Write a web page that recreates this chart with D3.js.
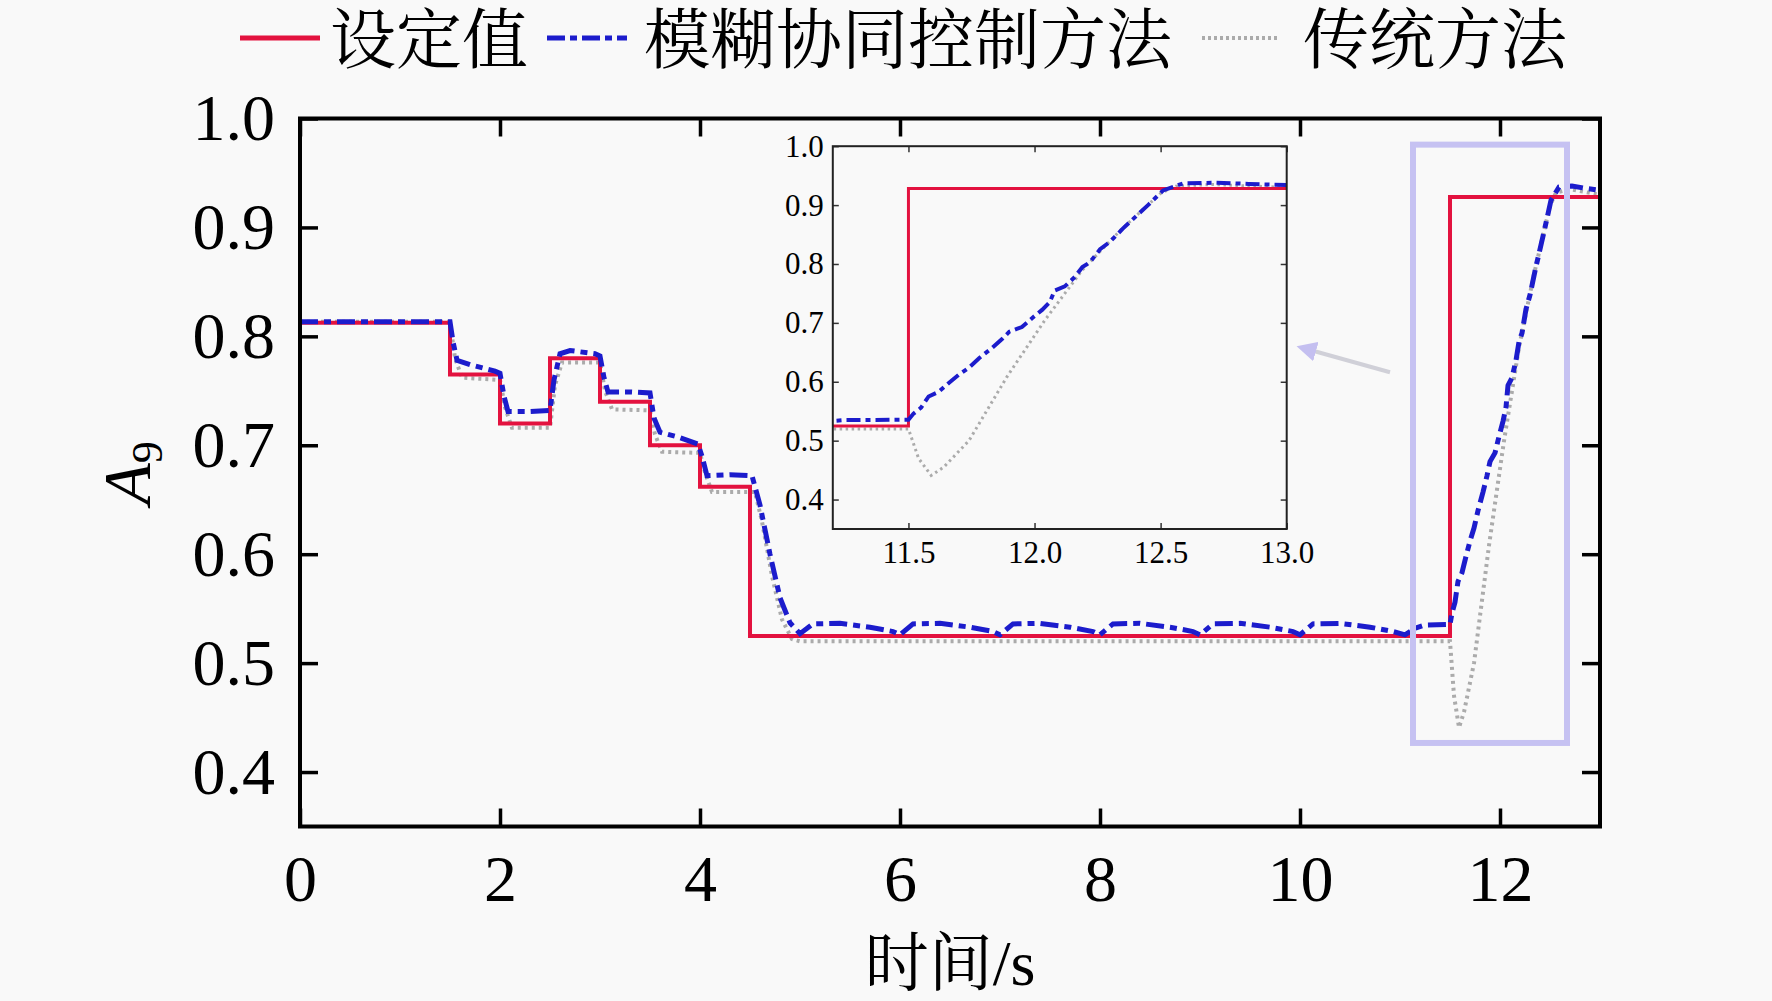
<!DOCTYPE html>
<html>
<head>
<meta charset="utf-8">
<script src="https://cdn.jsdelivr.net/npm/d3@7"></script>
<style>
  body { margin: 0; background: #f9f9f9; }
  svg { display: block; }
  .serif { font-family: "Liberation Serif", "Times New Roman", "Noto Serif CJK SC", "Noto Sans CJK SC", serif; }
</style>
</head>
<body>
<div id="chart"></div>
<script>
// set value (step signal)
var setTime  = [0, 1.5, 2, 2.5, 3, 3.5, 4, 4.5, 11.5, 13];
var setValue = [0.8125, 0.765, 0.72, 0.78, 0.74, 0.70, 0.662, 0.525, 0.928, 0.928];

// fuzzy cooperative control
var fuzzyTime = [0, 1.5, 1.53, 1.57, 1.7, 1.95, 2.0, 2.04, 2.08, 2.3, 2.5, 2.54, 2.6, 2.7, 2.95, 3.0,
  3.04, 3.08, 3.3, 3.5, 3.54, 3.6, 3.8, 3.98, 4.02, 4.07, 4.3, 4.52, 4.6, 4.7, 4.8, 4.9,
  5.0, 5.13, 5.4, 5.7, 5.93, 6.0, 6.13, 6.4, 6.7, 6.93, 7.0, 7.13, 7.4, 7.7, 7.93,
  8.0, 8.13, 8.4, 8.7, 8.93, 9.0, 9.13, 9.4, 9.7, 9.93, 10.0, 10.13, 10.4, 10.7, 10.93,
  11.05, 11.15, 11.25, 11.5, 11.52, 11.55, 11.58, 11.62, 11.66, 11.70, 11.74, 11.78, 11.83,
  11.87, 11.90, 11.95, 11.99, 12.03, 12.06, 12.08, 12.12, 12.16, 12.19, 12.22, 12.26, 12.30,
  12.35, 12.40, 12.45, 12.51, 12.59, 12.72, 12.85, 13.0];
var fuzzyValue = [0.8135, 0.8135, 0.795, 0.778, 0.774, 0.768, 0.766, 0.745, 0.731, 0.731, 0.732, 0.76, 0.784, 0.787, 0.784, 0.782,
  0.762, 0.749, 0.749, 0.748, 0.725, 0.712, 0.707, 0.701, 0.69, 0.672, 0.673, 0.672, 0.645, 0.60, 0.56, 0.537,
  0.527, 0.536, 0.5365, 0.533, 0.529, 0.526, 0.536, 0.5365, 0.533, 0.529, 0.526, 0.536, 0.5365, 0.533, 0.529,
  0.526, 0.536, 0.5365, 0.533, 0.529, 0.526, 0.536, 0.5365, 0.533, 0.529, 0.526, 0.536, 0.5365, 0.533, 0.529,
  0.526, 0.532, 0.535, 0.5355, 0.546, 0.556, 0.575, 0.583, 0.598, 0.612, 0.624, 0.640, 0.657,
  0.672, 0.685, 0.693, 0.708, 0.722, 0.735, 0.755, 0.762, 0.778, 0.795, 0.803, 0.825, 0.838,
  0.860, 0.880, 0.900, 0.925, 0.937, 0.938, 0.936, 0.934];

// traditional method
var tradTime = [0, 1.5, 1.55, 1.62, 2.0, 2.05, 2.12, 2.5, 2.55, 2.62, 3.0, 3.05, 3.12, 3.5, 3.55, 3.62,
  4.0, 4.05, 4.12, 4.55, 4.62, 4.72, 4.82, 4.92, 5.0, 11.5, 11.54, 11.59, 11.64, 11.74, 11.89,
  12.04, 12.19, 12.34, 12.5, 12.56, 12.7, 13.0];
var tradValue = [0.8135, 0.8135, 0.78, 0.762, 0.760, 0.735, 0.716, 0.716, 0.755, 0.776, 0.776, 0.75, 0.733, 0.732, 0.71, 0.694,
  0.693, 0.675, 0.657, 0.657, 0.63, 0.58, 0.54, 0.522, 0.520, 0.520, 0.47, 0.441, 0.455, 0.50, 0.608,
  0.704, 0.79, 0.857, 0.920, 0.932, 0.935, 0.930];

var xTicks = [0, 2, 4, 6, 8, 10, 12];
var yTicks = [0.4, 0.5, 0.6, 0.7, 0.8, 0.9, 1.0];
var insetXTicks = [11.5, 12.0, 12.5, 13.0];
var insetYTicks = [0.4, 0.5, 0.6, 0.7, 0.8, 0.9, 1.0];
var legendNames = ['设定值', '模糊协同控制方法', '传统方法'];

var width = 1772, height = 1001;
var red = '#e3123f', blue = '#1c1ccc', grey = '#ababab';

var svg = d3.select('#chart').append('svg')
  .attr('width', width)
  .attr('height', height)
  .attr('class', 'serif');

svg.append('rect').attr('width', width).attr('height', height).attr('fill', '#f9f9f9');

function zip(t, v) { return t.map(function(d, i) { return [d, v[i]]; }); }
var setData = zip(setTime, setValue),
    fuzzyData = zip(fuzzyTime, fuzzyValue),
    tradData = zip(tradTime, tradValue);

// ---------- main plot ----------
var x = d3.scaleLinear().domain([0, 13]).range([300, 1600]);
var y = d3.scaleLinear().domain([0.35, 1.0]).range([826.5, 118.5]);

svg.append('clipPath').attr('id', 'clipMain')
  .append('rect').attr('x', 300).attr('y', 118.5).attr('width', 1300).attr('height', 708);

function drawLines(g, xs, ys, w) {
  var lineStep = d3.line().x(function(d) { return xs(d[0]); }).y(function(d) { return ys(d[1]); }).curve(d3.curveStepAfter);
  var line = d3.line().x(function(d) { return xs(d[0]); }).y(function(d) { return ys(d[1]); });
  g.append('path').datum(tradData).attr('d', line)
    .attr('fill', 'none').attr('stroke', grey).attr('stroke-width', w.grey).attr('stroke-dasharray', w.dot);
  g.append('path').datum(setData).attr('d', lineStep)
    .attr('fill', 'none').attr('stroke', red).attr('stroke-width', w.red);
  g.append('path').datum(fuzzyData).attr('d', line)
    .attr('fill', 'none').attr('stroke', blue).attr('stroke-width', w.blue).attr('stroke-dasharray', w.dash);
}

var mainLines = svg.append('g').attr('clip-path', 'url(#clipMain)');
drawLines(mainLines, x, y, { grey: 4, red: 4, blue: 5, dot: '3,4', dash: '18,6,7,6' });

// axes, ticks inside
svg.append('g').attr('transform', 'translate(0,826.5)')
  .call(d3.axisBottom(x).tickValues(xTicks).tickSizeInner(-18).tickSizeOuter(0).tickPadding(28).tickFormat(d3.format('d')))
  .call(styleAxis, 66);
svg.append('g').attr('transform', 'translate(0,118.5)')
  .call(d3.axisTop(x).tickValues(xTicks).tickSizeInner(-18).tickSizeOuter(0).tickFormat(''))
  .call(styleAxis, 66);
svg.append('g').attr('transform', 'translate(300,0)')
  .call(d3.axisLeft(y).tickValues(yTicks).tickSizeInner(-18).tickSizeOuter(0).tickPadding(25).tickFormat(d3.format('.1f')))
  .call(styleAxis, 66);
svg.append('g').attr('transform', 'translate(1600,0)')
  .call(d3.axisRight(y).tickValues(yTicks).tickSizeInner(-18).tickSizeOuter(0).tickFormat(''))
  .call(styleAxis, 66);

function styleAxis(g, fs) {
  g.select('.domain').remove();
  g.selectAll('.tick line').attr('stroke', '#000').attr('stroke-width', 3.5);
  g.selectAll('.tick text').attr('fill', '#000').style('font-size', fs + 'px')
    .style('font-family', '"Liberation Serif", "Times New Roman", serif');
}

svg.append('rect').attr('x', 300).attr('y', 118.5).attr('width', 1300).attr('height', 708)
  .attr('fill', 'none').attr('stroke', '#000').attr('stroke-width', 4);

// highlight box and arrow
svg.append('rect')
  .attr('x', x(11.13)).attr('y', y(0.976))
  .attr('width', x(12.67) - x(11.13)).attr('height', y(0.4267) - y(0.976))
  .attr('fill', 'none').attr('stroke', '#c6c2f2').attr('stroke-width', 6);

svg.append('defs').append('marker')
  .attr('id', 'arrowHead').attr('viewBox', '0 0 10 10').attr('refX', 2).attr('refY', 5)
  .attr('markerWidth', 5).attr('markerHeight', 5).attr('orient', 'auto-start-reverse')
  .append('path').attr('d', 'M0,0L10,5L0,10Z').attr('fill', '#c4bff0');
svg.append('line')
  .attr('x1', x(10.9)).attr('y1', y(0.767)).attr('x2', x(10.12)).attr('y2', y(0.787))
  .attr('stroke', '#d0d0d8').attr('stroke-width', 4)
  .attr('marker-end', 'url(#arrowHead)');

// axis titles
svg.append('text').attr('x', 950).attr('y', 985).attr('text-anchor', 'middle')
  .style('font-size', '64px').text('时间/s');

var yl = svg.append('text').attr('transform', 'translate(150,473) rotate(-90)')
  .attr('text-anchor', 'middle').style('font-size', '68px');
yl.append('tspan').style('font-style', 'italic').text('A');
yl.append('tspan').attr('dy', 12).style('font-size', '44px').text('9');

// ---------- inset ----------
var xi = d3.scaleLinear().domain([11.2, 13.0]).range([832.8, 1286.7]);
var yi = d3.scaleLinear().domain([0.35, 1.0]).range([529, 146.2]);

svg.append('rect').attr('x', 832.8).attr('y', 146.2).attr('width', 453.9).attr('height', 382.8)
  .attr('fill', '#f9f9f9');
svg.append('clipPath').attr('id', 'clipInset')
  .append('rect').attr('x', 832.8).attr('y', 146.2).attr('width', 453.9).attr('height', 382.8);

var insetLines = svg.append('g').attr('clip-path', 'url(#clipInset)');
drawLines(insetLines, xi, yi, { grey: 3, red: 3, blue: 4, dot: '2.5,3.5', dash: '14,5,5,5' });

function styleInset(g) {
  g.select('.domain').remove();
  g.selectAll('.tick line').attr('stroke', '#333').attr('stroke-width', 1.5);
  g.selectAll('.tick text').attr('fill', '#000').style('font-size', '31px')
    .style('font-family', '"Liberation Serif", "Times New Roman", serif');
}
svg.append('g').attr('transform', 'translate(0,529)')
  .call(d3.axisBottom(xi).tickValues(insetXTicks).tickSizeInner(-6).tickSizeOuter(0).tickPadding(12).tickFormat(d3.format('.1f')))
  .call(styleInset);
svg.append('g').attr('transform', 'translate(0,146.2)')
  .call(d3.axisTop(xi).tickValues(insetXTicks).tickSizeInner(-6).tickSizeOuter(0).tickFormat(''))
  .call(styleInset);
svg.append('g').attr('transform', 'translate(832.8,0)')
  .call(d3.axisLeft(yi).tickValues(insetYTicks).tickSizeInner(-6).tickSizeOuter(0).tickPadding(9).tickFormat(d3.format('.1f')))
  .call(styleInset);
svg.append('g').attr('transform', 'translate(1286.7,0)')
  .call(d3.axisRight(yi).tickValues(insetYTicks).tickSizeInner(-6).tickSizeOuter(0).tickFormat(''))
  .call(styleInset);

svg.append('rect').attr('x', 832.8).attr('y', 146.2).attr('width', 453.9).attr('height', 382.8)
  .attr('fill', 'none').attr('stroke', '#222').attr('stroke-width', 2);

// ---------- legend ----------
var legendItems = [
  { x1: 240, x2: 320, tx: 330, color: red, w: 5, dash: null },
  { x1: 547, x2: 627, tx: 644, color: blue, w: 5, dash: '18,5,7,5' },
  { x1: 1202, x2: 1277, tx: 1303, color: grey, w: 4, dash: '3,3' }
];
var legend = svg.append('g');
legend.selectAll('line').data(legendItems).enter().append('line')
  .attr('x1', function(d) { return d.x1; }).attr('x2', function(d) { return d.x2; })
  .attr('y1', 38).attr('y2', 38)
  .attr('stroke', function(d) { return d.color; })
  .attr('stroke-width', function(d) { return d.w; })
  .attr('stroke-dasharray', function(d) { return d.dash; });
legend.selectAll('text').data(legendItems).enter().append('text')
  .attr('x', function(d) { return d.tx; }).attr('y', 40)
  .attr('dominant-baseline', 'central')
  .style('font-size', '66px')
  .text(function(d, i) { return legendNames[i]; });
</script>
</body>
</html>
